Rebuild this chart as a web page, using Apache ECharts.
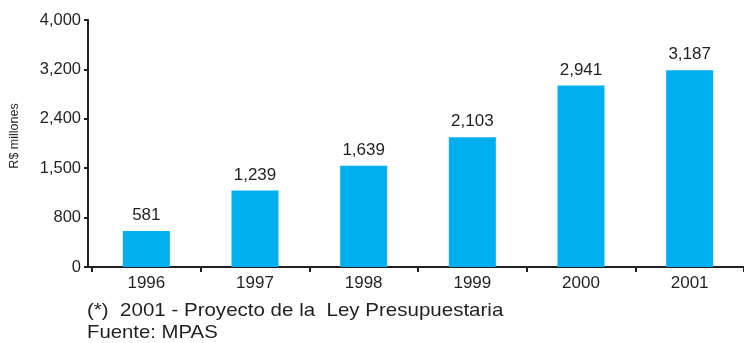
<!DOCTYPE html>
<html>
<head>
<meta charset="utf-8">
<script src="https://cdn.jsdelivr.net/npm/echarts@6/dist/echarts.min.js"></script>
<style>
  html, body { margin: 0; padding: 0; background: #ffffff; }
  #chart { width: 744px; height: 343px; }
</style>
</head>
<body>
<div id="chart"></div>
<script>
// Annual amounts, R$ millions
const years = ['1996', '1997', '1998', '1999', '2000', '2001'];
const amounts = [581, 1239, 1639, 2103, 2941, 3187];
// Y-axis tick labels as printed, bottom to top
const yTickLabels = ['0', '800', '1,500', '2,400', '3,200', '4,000'];
const axisTitle = 'R$ millones';
const noteLines = ['(*)  2001 - Proyecto de la  Ley Presupuestaria', 'Fuente: MPAS'];

const ink = '#231f20';
const font = 'Liberation Sans, Arial, Helvetica, sans-serif';

const gridLeft = 92;
const gridTop = 20;
const gridBottom = 76;
const axisY = 343 - gridBottom;

const chart = echarts.init(document.getElementById('chart'), null, { renderer: 'canvas' });

chart.setOption({
  animation: false,
  backgroundColor: '#ffffff',
  grid: { left: gridLeft, right: -2, top: gridTop, bottom: gridBottom, containLabel: false },
  xAxis: {
    type: 'category',
    data: years,
    boundaryGap: true,
    axisLine: { show: true, lineStyle: { color: ink, width: 2 } },
    axisTick: { show: true, alignWithLabel: false, length: 5, lineStyle: { color: ink, width: 2 } },
    axisLabel: { color: ink, fontFamily: font, fontSize: 17, margin: 8 }
  },
  yAxis: {
    type: 'value',
    min: 0,
    max: 4000,
    interval: 800,
    offset: 4,
    axisLine: { show: true, lineStyle: { color: ink, width: 2 } },
    axisTick: { show: true, length: 4, lineStyle: { color: ink, width: 2 } },
    splitLine: { show: false },
    axisLabel: {
      color: ink,
      fontFamily: font,
      fontSize: 16.5,
      margin: 7,
      formatter: function (value) {
        return yTickLabels[Math.round(value / 800)];
      }
    }
  },
  series: [{
    type: 'bar',
    data: amounts,
    barWidth: 47,
    itemStyle: { color: '#00aeef' },
    label: {
      show: true,
      position: 'top',
      distance: 7,
      color: ink,
      fontFamily: font,
      fontSize: 17,
      formatter: function (p) {
        return p.value.toLocaleString('en-US');
      }
    }
  }],
  graphic: [
    // short run of the baseline past the vertical axis
    {
      type: 'line',
      shape: { x1: 85, y1: axisY, x2: gridLeft + 1, y2: axisY },
      style: { stroke: ink, lineWidth: 2 }
    },
    // vertical axis title, reading bottom to top
    {
      type: 'text',
      x: 15,
      y: 136,
      rotation: Math.PI / 2,
      style: {
        text: axisTitle, fill: ink, font: '12.5px ' + font,
        textAlign: 'center', textVerticalAlign: 'middle'
      }
    },
    {
      type: 'text',
      x: 87,
      y: 311,
      scaleX: 1.08,
      style: {
        text: noteLines[0], fill: ink, font: '19px ' + font,
        textAlign: 'left', textVerticalAlign: 'middle'
      }
    },
    {
      type: 'text',
      x: 87,
      y: 333,
      scaleX: 1.07,
      style: {
        text: noteLines[1], fill: ink, font: '19px ' + font,
        textAlign: 'left', textVerticalAlign: 'middle'
      }
    }
  ]
});
</script>
</body>
</html>
